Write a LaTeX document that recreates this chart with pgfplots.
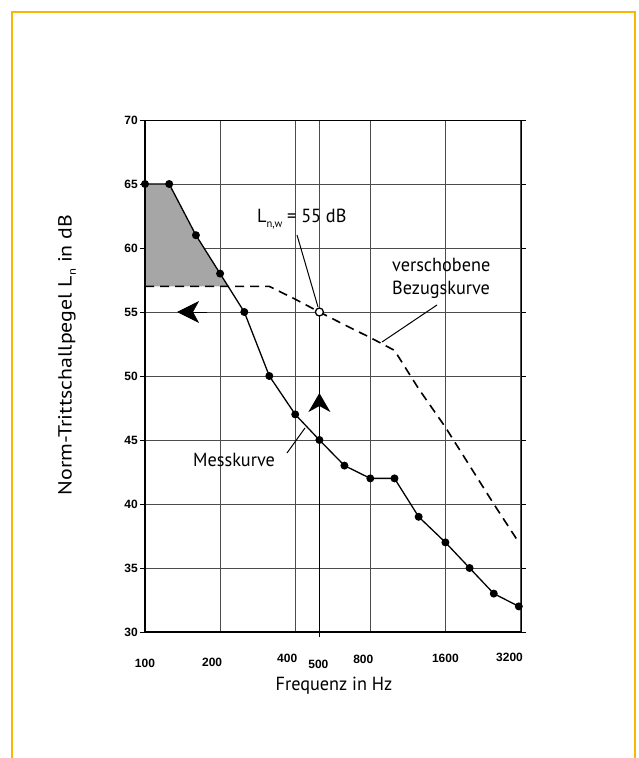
\documentclass[border=0pt]{standalone}
\usepackage{pgfplots}
\pgfplotsset{compat=1.18}
\usepackage{fontspec}
\setmainfont{PT Sans}[FakeStretch=0.96]
\newfontfamily\tickfont{Liberation Sans}
\usetikzlibrary{arrows.meta}
\definecolor{frameorange}{RGB}{250,182,0}
\newcommand{\tl}[3]{\raisebox{#2pt}{\makebox[0pt]{\hspace{#1pt}\tickfont\bfseries\fontsize{12}{12}\selectfont #3}}}
\begin{document}
\begin{tikzpicture}[x=1pt,y=1pt]
\path[use as bounding box] (0,0) rectangle (638,758);
\draw[frameorange, line width=2.4pt] (12,-3) -- (12,746) -- (635,746) -- (635,-3);
\begin{axis}[at={(145pt,126pt)}, anchor=south west, scale only axis,
  width=376pt, height=512pt,
  xmode=log, xmin=100, xmax=3215, ymin=30, ymax=70,
  /pgf/number format/assume math mode=true,
  xtick={100,200,400,500,800,1600,3200},
  xticklabels={\tl{0}{-3}{100},\tl{-16}{-2}{200},\tl{-16}{2}{400},\tl{-2}{-4}{500},\tl{-14}{1}{800},\tl{0}{2}{1600},\tl{-22}{3}{3200}},
  ytick={30,35,...,70},
  yticklabel={\tickfont\bfseries\fontsize{12}{12}\selectfont\pgfmathprintnumber{\tick}},
  grid=major, major grid style={black!70, line width=0.6pt},
  axis line style={line width=0.9pt},
  tick align=outside, xtick style={draw=none}, ytick style={line width=0.6pt, black},
  major tick length=5pt,
  yticklabel style={inner sep=0pt, xshift=-2pt},
  xticklabel style={inner sep=0pt, anchor=base, yshift=-27pt},
  clip=false]
\addplot[fill=black!35, draw=none] coordinates {(100,57)(100,65)(125,65)(160,61)(200,58)(216,57)} -- cycle;
\addplot[black, line width=1.6pt, dash pattern=on 9pt off 6pt] coordinates {(100,57)(315,57)(400,56)(500,55)(630,54)(800,53)(1000,52)(1250,49)(1600,46)(2000,43)(2500,40)(3150,37)};
\addplot[black, line width=1.3pt, mark=*, mark size=3.3pt] coordinates {(100,65)(125,65)(160,61)(200,58)(250,55)(315,50)(400,47)(500,45)(630,43)(800,42)(1000,42)(1250,39)(1600,37)(2000,35)(2500,33)(3150,32)};
\draw[line width=1.5pt] (axis cs:500,29.6) -- (axis cs:500,55);
\draw[line width=1.5pt, -{Stealth[length=19pt,width=22pt,inset=6pt]}] (axis cs:500,46) -- (axis cs:500,48.67);
\draw[line width=0.6pt, -{Stealth[length=22pt,width=22pt,inset=6pt]}] (axis cs:178,55) -- (axis cs:134.4,55);
\addplot[only marks, mark=*, mark size=4pt, mark options={fill=white, draw=black, line width=1.3pt}] coordinates {(500,55)};
\draw[line width=1.8pt] (rel axis cs:0,1) -- (rel axis cs:0,0) -- (rel axis cs:1,0);
\end{axis}
% pointer lines
\draw[line width=1pt] (297,523) -- (318,451);
\draw[line width=1pt] (437,453) -- (382,416);
\draw[line width=1pt] (287,305) -- (305,330);
% texts
\fontsize{19}{23}\selectfont
\node[anchor=base west, inner sep=0pt] at (257,535) {L\raisebox{-0.45ex}{\fontsize{11}{11}\selectfont n,w} = 55 dB};
\node[anchor=base west, inner sep=0pt] at (392,486) {verschobene};
\node[anchor=base west, inner sep=0pt] at (392,463) {Bezugskurve};
\node[anchor=base west, inner sep=0pt] at (193,291.3) {Messkurve};
\node[anchor=base, inner sep=0pt] at (334,67.3) {Frequenz in Hz};
\node[rotate=90, inner sep=0pt] at (67,403) {\scalebox{1.2}[1]{Norm-Trittschallpegel L\raisebox{-0.45ex}{\fontsize{11}{11}\selectfont n} in dB}};
\end{tikzpicture}
\end{document}
